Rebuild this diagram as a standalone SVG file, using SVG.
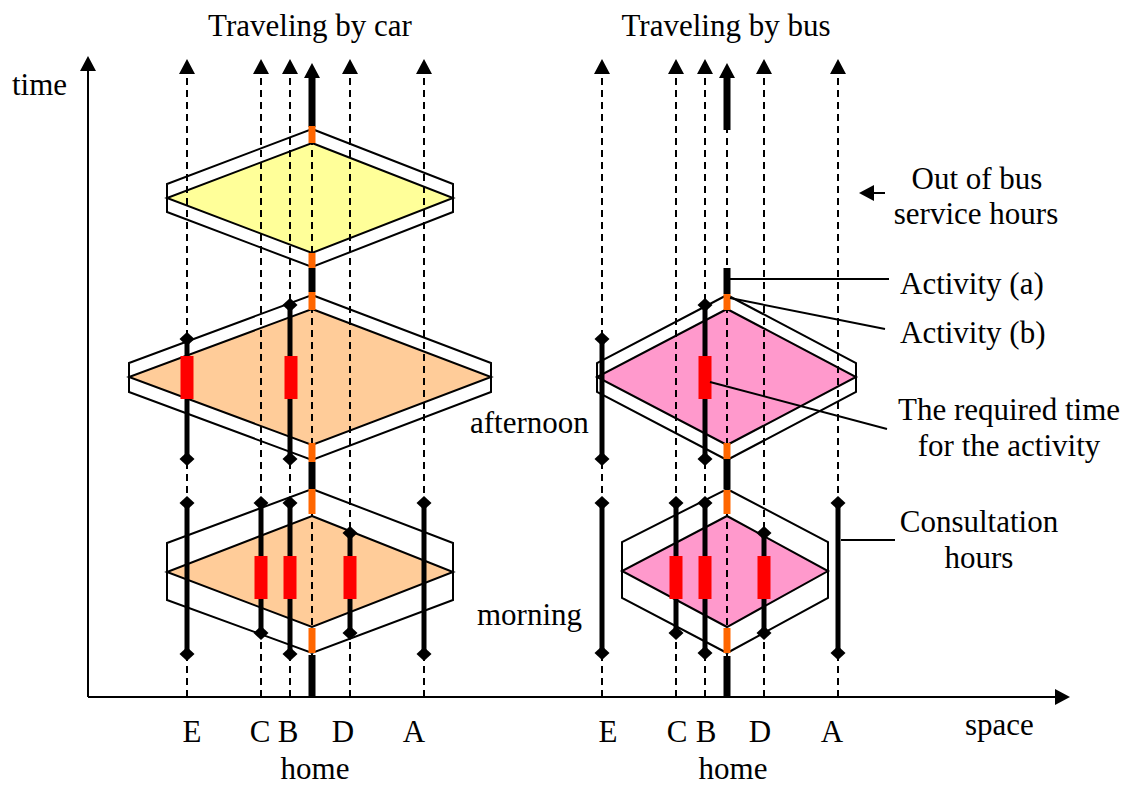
<svg xmlns="http://www.w3.org/2000/svg" width="1133" height="787" viewBox="0 0 1133 787">
<style>
text{font-family:"Liberation Serif","Times New Roman",serif;font-size:31px;fill:#000}
.mid{text-anchor:middle}
.hex{fill:#fff;stroke:#000;stroke-width:2;stroke-linejoin:miter}
.dia{stroke:#000;stroke-width:2}
.yel{fill:#FFFF99}.peach{fill:#FFCC99}.pink{fill:#FF99CC}
.dash{stroke:#000;stroke-width:2;stroke-dasharray:7,5;fill:none}
.axis{stroke:#000;stroke-width:2;fill:none}
.thick{stroke:#000;stroke-width:7}
.org{stroke:#FF6600;stroke-width:7}
.act{stroke:#000;stroke-width:5}
.red{fill:#FF0000}
.lead{stroke:#000;stroke-width:2;fill:none}
</style>
<defs>
<marker id="arr" markerUnits="userSpaceOnUse" viewBox="0 0 15 16" refX="0" refY="8" markerWidth="15" markerHeight="16" orient="auto">
<path d="M0,0 L15,8 L0,16 z" fill="#000"/>
</marker>
<marker id="dm" markerUnits="userSpaceOnUse" viewBox="-8 -8 16 16" refX="0" refY="0" markerWidth="16" markerHeight="16" orient="0">
<path d="M-7.5,0 L0,-7 L7.5,0 L0,7 z" fill="#000"/>
</marker>
</defs>

<g id="axes">
<line class="axis" x1="88" y1="697" x2="88" y2="71" marker-end="url(#arr)"/>
<line class="axis" x1="88" y1="697" x2="1055" y2="697" marker-end="url(#arr)"/>
</g>

<g id="prisms">
<g id="car-evening">
<polygon class="hex" points="312,129 453,184 453,212 312,267 167,212 167,184"/>
<polygon class="dia yel" points="312,143 453,198 312,253 167,198"/>
</g>
<g id="car-afternoon">
<polygon class="hex" points="312,295 491,363 491,392 312,460 129,392 129,363"/>
<polygon class="dia peach" points="312,309 491,377 312,445 129,377"/>
</g>
<g id="car-morning">
<polygon class="hex" points="312,489 453,543 453,600 312,653 167,600 167,543"/>
<polygon class="dia peach" points="312,516 453,572 312,627 167,572"/>
</g>
<g id="bus-afternoon">
<polygon class="hex" points="727,295 856,363 856,392 727,460 597,392 597,363"/>
<polygon class="dia pink" points="727,309 856,377 727,445 597,377"/>
</g>
<g id="bus-morning">
<polygon class="hex" points="727,489 828,542 828,598 727,653 622,598 622,542"/>
<polygon class="dia pink" points="727,516 828,571 727,627 622,571"/>
</g>
</g>

<g id="connectors">
<g id="car-locations">
<line class="dash" x1="187" y1="697" x2="187" y2="74" marker-end="url(#arr)"/>
<line class="dash" x1="261" y1="697" x2="261" y2="74" marker-end="url(#arr)"/>
<line class="dash" x1="290" y1="697" x2="290" y2="74" marker-end="url(#arr)"/>
<line class="dash" x1="350" y1="697" x2="350" y2="74" marker-end="url(#arr)"/>
<line class="dash" x1="424" y1="697" x2="424" y2="74" marker-end="url(#arr)"/>
<line class="dash" x1="312" y1="697" x2="312" y2="90"/>
</g>
<g id="bus-locations">
<line class="dash" x1="602" y1="697" x2="602" y2="74" marker-end="url(#arr)"/>
<line class="dash" x1="676" y1="697" x2="676" y2="74" marker-end="url(#arr)"/>
<line class="dash" x1="705" y1="697" x2="705" y2="74" marker-end="url(#arr)"/>
<line class="dash" x1="764" y1="697" x2="764" y2="74" marker-end="url(#arr)"/>
<line class="dash" x1="838" y1="697" x2="838" y2="74" marker-end="url(#arr)"/>
<line class="dash" x1="727" y1="697" x2="727" y2="130"/>
</g>
<g id="car-home">
<line class="thick" x1="312" y1="127" x2="312" y2="78" marker-end="url(#arr)"/>
<line class="org" x1="312" y1="126" x2="312" y2="143"/>
<line class="org" x1="312" y1="253" x2="312" y2="268"/>
<line class="thick" x1="312" y1="268" x2="312" y2="292"/>
<line class="org" x1="312" y1="292" x2="312" y2="310"/>
<line class="org" x1="312" y1="443" x2="312" y2="462"/>
<line class="thick" x1="312" y1="462" x2="312" y2="489"/>
<line class="org" x1="312" y1="489" x2="312" y2="514"/>
<line class="org" x1="312" y1="628" x2="312" y2="653"/>
<line class="thick" x1="312" y1="655" x2="312" y2="697"/>
</g>
<g id="bus-home">
<line class="thick" x1="727" y1="130" x2="727" y2="78" marker-end="url(#arr)"/>
<line class="thick" x1="727" y1="268" x2="727" y2="294"/>
<line class="org" x1="727" y1="294" x2="727" y2="310"/>
<line class="org" x1="727" y1="443" x2="727" y2="459"/>
<line class="thick" x1="727" y1="459" x2="727" y2="489"/>
<line class="org" x1="727" y1="490" x2="727" y2="514"/>
<line class="org" x1="727" y1="628" x2="727" y2="653"/>
<line class="thick" x1="727" y1="656" x2="727" y2="697"/>
</g>
<g id="activities">
<line class="act" x1="187" y1="339" x2="187" y2="459" marker-start="url(#dm)" marker-end="url(#dm)"/>
<line class="act" x1="290" y1="305" x2="290" y2="459" marker-start="url(#dm)" marker-end="url(#dm)"/>
<line class="act" x1="187" y1="503" x2="187" y2="654" marker-start="url(#dm)" marker-end="url(#dm)"/>
<line class="act" x1="261" y1="503" x2="261" y2="633" marker-start="url(#dm)" marker-end="url(#dm)"/>
<line class="act" x1="290" y1="503" x2="290" y2="654" marker-start="url(#dm)" marker-end="url(#dm)"/>
<line class="act" x1="350" y1="533" x2="350" y2="633" marker-start="url(#dm)" marker-end="url(#dm)"/>
<line class="act" x1="424" y1="503" x2="424" y2="654" marker-start="url(#dm)" marker-end="url(#dm)"/>
<line class="act" x1="602" y1="339" x2="602" y2="459" marker-start="url(#dm)" marker-end="url(#dm)"/>
<line class="act" x1="705" y1="305" x2="705" y2="459" marker-start="url(#dm)" marker-end="url(#dm)"/>
<line class="act" x1="602" y1="503" x2="602" y2="653" marker-start="url(#dm)" marker-end="url(#dm)"/>
<line class="act" x1="676" y1="503" x2="676" y2="633" marker-start="url(#dm)" marker-end="url(#dm)"/>
<line class="act" x1="705" y1="503" x2="705" y2="653" marker-start="url(#dm)" marker-end="url(#dm)"/>
<line class="act" x1="764" y1="533" x2="764" y2="633" marker-start="url(#dm)" marker-end="url(#dm)"/>
<line class="act" x1="838" y1="503" x2="838" y2="653" marker-start="url(#dm)" marker-end="url(#dm)"/>
</g>
<g id="required-times">
<rect class="red" x="180.5" y="356" width="13" height="43"/>
<rect class="red" x="284.5" y="356" width="13" height="43"/>
<rect class="red" x="254.5" y="556" width="13" height="43"/>
<rect class="red" x="283.5" y="556" width="13" height="43"/>
<rect class="red" x="343.5" y="556" width="13" height="43"/>
<rect class="red" x="698.5" y="356" width="13" height="43"/>
<rect class="red" x="669.5" y="556" width="13" height="43"/>
<rect class="red" x="698.5" y="556" width="13" height="43"/>
<rect class="red" x="757.5" y="556" width="13" height="43"/>
</g>
<g id="leaders">
<line class="lead" x1="885" y1="193" x2="874" y2="193" marker-end="url(#arr)"/>
<line class="lead" x1="730" y1="279" x2="889" y2="279"/>
<line class="lead" x1="730" y1="298" x2="885" y2="329"/>
<line class="lead" x1="710" y1="382" x2="887" y2="429"/>
<line class="lead" x1="841" y1="540" x2="895" y2="540"/>
</g>
</g>

<g id="labels">
<text class="mid" x="310" y="36">Traveling by car</text>
<text class="mid" x="726" y="36">Traveling by bus</text>
<text x="12" y="95">time</text>
<text x="965" y="735">space</text>
<text class="mid" x="192" y="742">E</text>
<text class="mid" x="260" y="742">C</text>
<text class="mid" x="288" y="742">B</text>
<text class="mid" x="343" y="742">D</text>
<text class="mid" x="414" y="742">A</text>
<text class="mid" x="315" y="779">home</text>
<text class="mid" x="608" y="742">E</text>
<text class="mid" x="677" y="742">C</text>
<text class="mid" x="706" y="742">B</text>
<text class="mid" x="760" y="742">D</text>
<text class="mid" x="832" y="742">A</text>
<text class="mid" x="733" y="779">home</text>
<text x="470" y="433">afternoon</text>
<text x="477" y="625">morning</text>
<text class="mid" x="977" y="189">Out of bus</text>
<text class="mid" x="976" y="224">service hours</text>
<text x="900" y="294">Activity (a)</text>
<text x="900" y="343">Activity (b)</text>
<text class="mid" x="1009" y="420">The required time</text>
<text class="mid" x="1009" y="456">for the activity</text>
<text class="mid" x="979" y="532">Consultation</text>
<text class="mid" x="979" y="568">hours</text>
</g>
</svg>
